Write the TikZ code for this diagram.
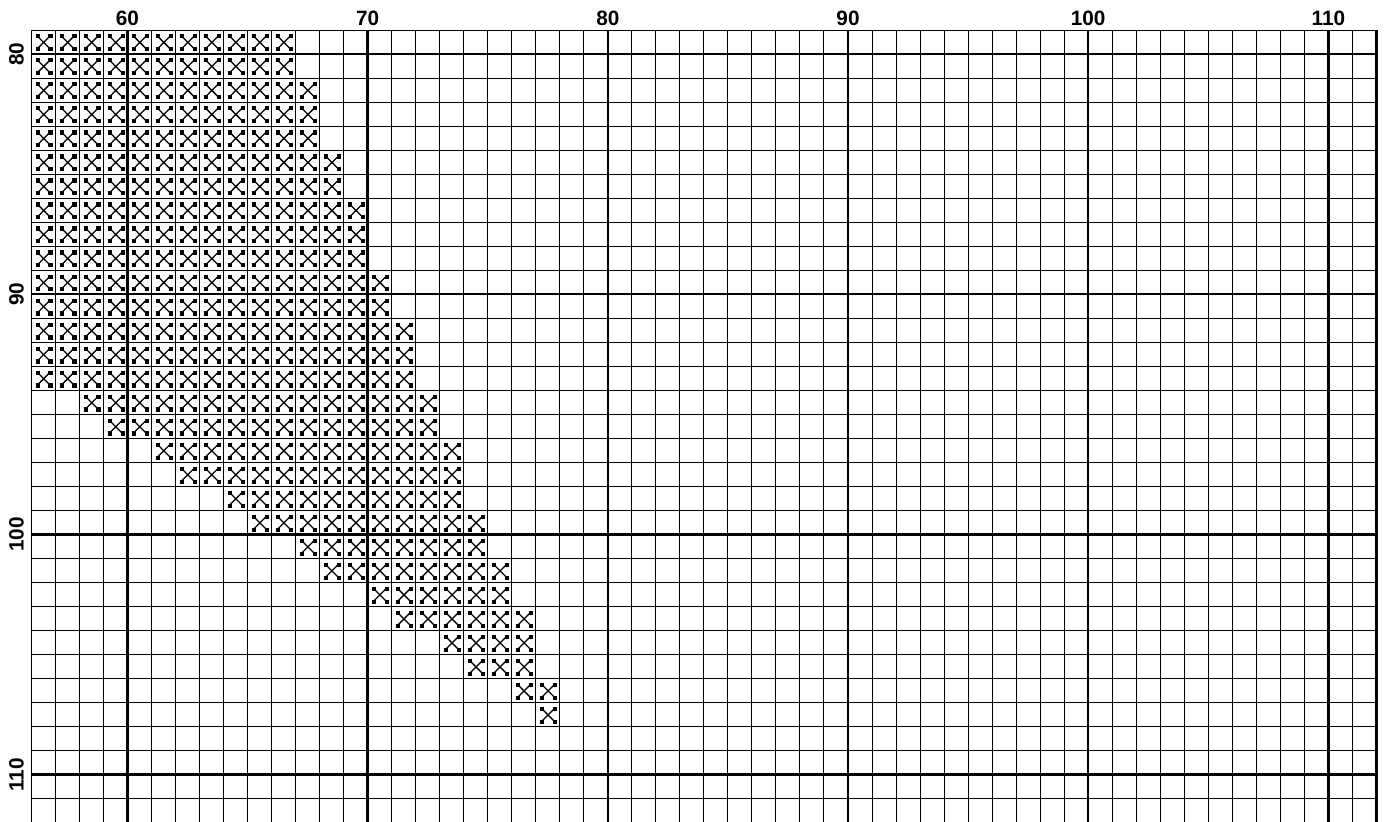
\documentclass[tikz,border=0pt]{standalone}
\usepackage{fontspec}
\setmainfont{Liberation Sans}
\usepackage{tikz}
\usepackage{xcolor}
\definecolor{gridblack}{RGB}{0,0,0}

\begin{document}
\begin{tikzpicture}[
    x=0.5cm,
    y=-0.5cm,
    thinline/.style={draw=gridblack, line width=0.6pt},
    thickline/.style={draw=gridblack, line width=1.4pt},
    numlabel/.style={
        inner sep=0pt,
        text=gridblack,
        font=\fontsize{12.3}{15}\selectfont\bfseries
    },
    stitch/.pic={
        \draw[gridblack, line width=0.75pt] (0.245,0.245) -- (0.785,0.785) (0.785,0.245) -- (0.245,0.785);
        \filldraw[gridblack, line width=0.2pt] (0.185,0.185) rectangle (0.315,0.315);
        \filldraw[gridblack, line width=0.2pt] (0.72,0.185) rectangle (0.85,0.315);
        \filldraw[gridblack, line width=0.2pt] (0.185,0.72) rectangle (0.315,0.85);
        \filldraw[gridblack, line width=0.2pt] (0.72,0.72) rectangle (0.85,0.85);
    }
]

    % Marco
    \useasboundingbox (54.697,77.751) rectangle (112.357,111.971);

    % Puntadas
    \foreach \r/\first/\last in {79/56/66, 80/56/66, 81/56/67, 82/56/67, 83/56/67,
                                 84/56/68, 85/56/68, 86/56/69, 87/56/69, 88/56/69,
                                 89/56/70, 90/56/70, 91/56/71, 92/56/71, 93/56/71,
                                 94/58/72, 95/59/72, 96/61/73, 97/62/73, 98/64/73,
                                 99/65/74, 100/67/74, 101/68/75, 102/70/75, 103/71/76,
                                 104/73/76, 105/74/76, 106/76/77, 107/77/77}
        \foreach \c in {\first,...,\last}
            \pic at (\c,\r) {stitch};

    % Cuadricula
    \foreach \c in {56,...,112}
        \draw[thinline] (\c,79) -- (\c,112);
    \foreach \r in {79,...,112}
        \draw[thinline] (56,\r) -- (112,\r);

    \foreach \c in {60,70,...,110}
        \draw[thickline] (\c,79) -- (\c,112);
    \foreach \r in {80,90,...,110}
        \draw[thickline] (56,\r) -- (112,\r);
    \draw[thickline] (112,79) -- (112,112);

    % Numeros
    \foreach \c in {60,70,...,110}
        \node[numlabel] (col\c) at (\c,78.52) {\c};
    \foreach \r in {80,90,...,110}
        \node[numlabel, rotate=90] (row\r) at (55.38,\r) {\r};

\end{tikzpicture}
\end{document}
